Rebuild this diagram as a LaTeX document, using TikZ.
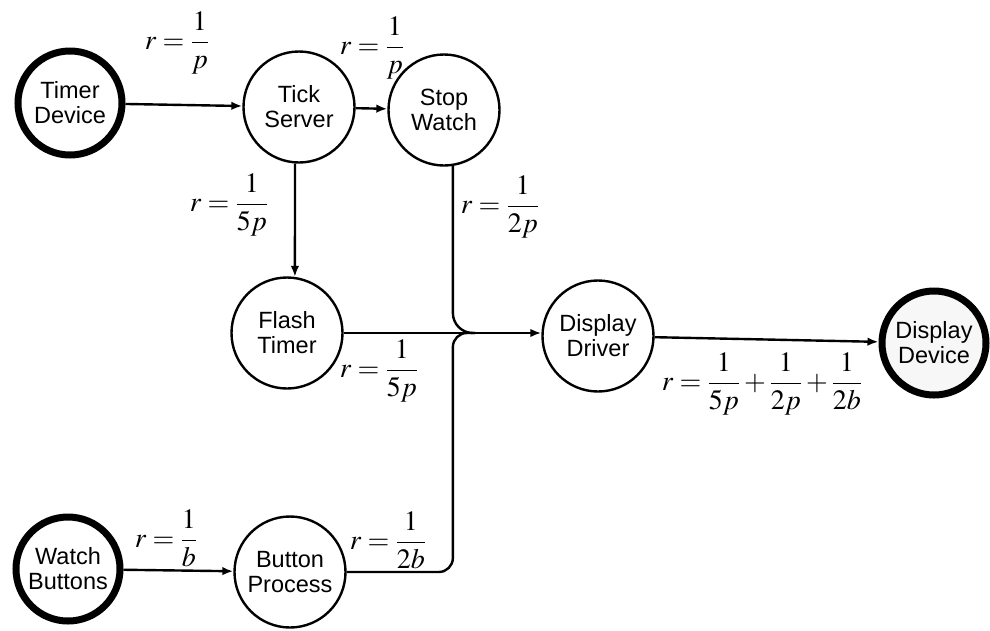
\documentclass[tikz,border=0pt]{standalone}
\usepackage{mathptmx}
\usepackage[no-math]{fontspec}
\newfontfamily\nodefont{Liberation Sans}
\usetikzlibrary{arrows.meta,calc}
\begin{document}
\begin{tikzpicture}[x=1pt,y=-1pt,
  proc/.style={circle,draw,line width=2.4pt,minimum size=111pt,inner sep=0pt,
    align=center,font=\nodefont\fontsize{23.5}{25}\selectfont},
  term/.style={proc,line width=7pt,minimum size=104pt},
  lbl/.style={inner sep=0pt,font=\fontsize{28}{30}\selectfont},
  flow/.style={line width=2.4pt},
  arr/.style={flow,-{Latex[length=11pt,width=8.5pt]}}]
\useasboundingbox (0,0) rectangle (990,630);
% nodes
\node[term] (td) at (70,103) {Timer\\Device};
\node[proc] (ts) at (299,107) {Tick\\Server};
\node[proc] (sw) at (444,110) {Stop\\Watch};
\node[proc] (ft) at (287,333) {Flash\\Timer};
\node[proc] (dd) at (598,336) {Display\\Driver};
\node[term,fill=black!3] (dv) at (934,343) {Display\\Device};
\node[term] (wb) at (68,569) {Watch\\Buttons};
\node[proc] (bp) at (290,572) {Button\\Process};
% junction points
\coordinate (din) at (dd.west |- ft.east);
\coordinate (jm) at (475,333);
\coordinate (bk) at (sw.-81 |- jm);
% connectors
\draw[arr] (td) -- (ts);
\draw[arr] (ts) -- (sw);
\draw[arr] (ts.-94) -- (ft.82);
\draw[arr] (ft.east) -- (din);
\draw[flow,rounded corners=20pt] (sw.-81) -- (bk) -- (jm);
\draw[flow,rounded corners=14pt] (bp.east) -| (bk) -- (jm);
\draw[arr] (dd) -- (dv);
\draw[arr] (wb) -- (bp);
% labels
\node[lbl] (l1) at (177,43) {$\displaystyle r=\frac{1}{p}$};
\node[lbl] (l2) at (372,48) {$\displaystyle r=\frac{1}{p}$};
\node[lbl] (l3) at (229,205) {$\displaystyle r=\frac{1}{5p}$};
\node[lbl] (l4) at (500,207) {$\displaystyle r=\frac{1}{2p}$};
\node[lbl] (l5) at (379,371) {$\displaystyle r=\frac{1}{5p}$};
\node[lbl] (l6) at (762,384) {$\displaystyle r=\frac{1}{5p}+\frac{1}{2p}+\frac{1}{2b}$};
\node[lbl] (l7) at (166,538) {$\displaystyle r=\frac{1}{b}$};
\node[lbl] (l8) at (388,540) {$\displaystyle r=\frac{1}{2b}$};
\end{tikzpicture}
\end{document}
